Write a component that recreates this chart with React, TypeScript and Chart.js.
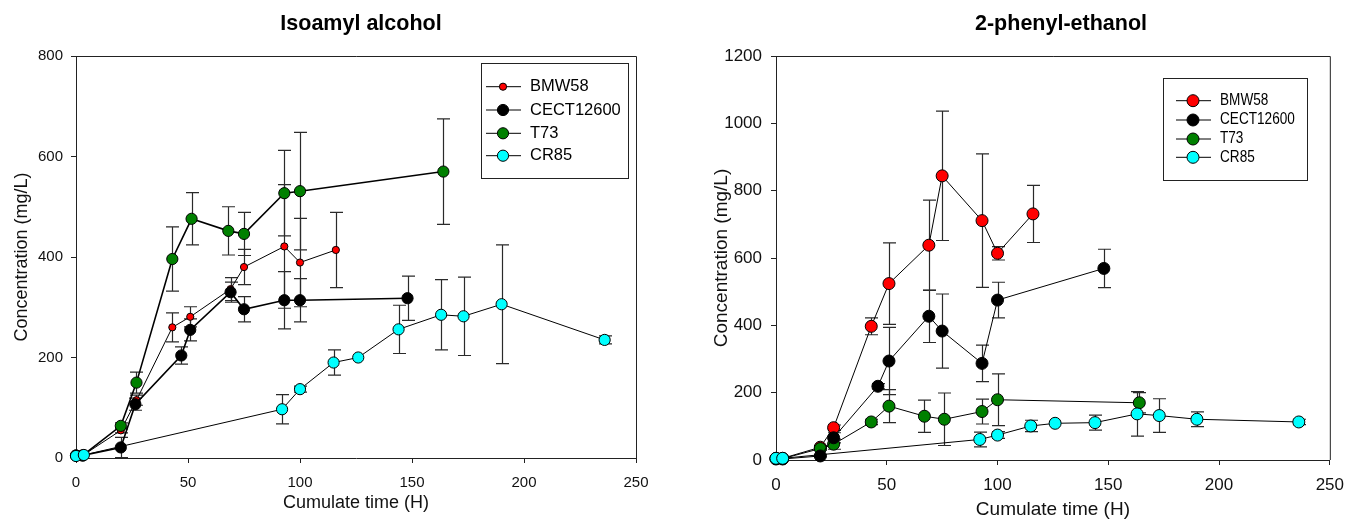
import React, { useEffect, useRef } from 'react';
import { Chart, registerables } from 'chart.js';

Chart.register(...registerables);

// ---------- Data ----------
const SERIES_NAMES = ['BMW58', 'CECT12600', 'T73', 'CR85'];
const SERIES_COLORS = ['#FF0000', '#000000', '#008000', '#00FFFF'];

const X_TICKS = [0, 50, 100, 150, 200, 250];
const ISO_Y_TICKS = [0, 200, 400, 600, 800];
const PHE_Y_TICKS = [0, 200, 400, 600, 800, 1000, 1200];

// Isoamyl alcohol
const isoBmwT = [0, 3, 20, 27, 43, 51, 69, 75, 93, 100, 116];
const isoBmwV = [5, 5, 55, 115, 260, 281, 336, 380, 421, 389, 414];
const isoBmwE = [0, 0, 5, 10, 29, 20, 23, 35, 123, 88, 75];

const isoCectT = [0, 3, 20, 26.5, 47, 51, 69, 75, 93, 100, 148];
const isoCectV = [5, 5, 21, 107, 204, 255, 330, 296, 314, 314, 318];
const isoCectE = [0, 0, 20, 12, 17, 22, 20, 25, 57, 43, 44];

const isoT73T = [0, 3, 20, 27, 43, 51.6, 68, 75, 93, 100, 164];
const isoT73V = [5, 5, 64, 150, 396, 476, 452, 446, 527, 531, 570];
const isoT73E = [0, 0, 6, 21, 64, 52, 48, 43, 85, 117, 105];

const isoCr85T = [0, 3.5, 92, 100, 115, 126, 144, 163, 173, 190, 236];
const isoCr85V = [4, 6, 97, 137, 190, 200, 256, 285, 282, 306, 235];
const isoCr85E = [0, 0, 29, 6, 25, 0, 48, 70, 78, 118, 8];

// 2-phenyl-ethanol
const pheBmwT = [0, 3, 20, 26, 43, 51, 69, 75, 93, 100, 116];
const pheBmwV = [5, 5, 38, 96, 397, 524, 638, 844, 711, 614, 731];
const pheBmwE = [0, 0, 5, 8, 25, 121, 134, 192, 198, 20, 85];

const pheCectT = [0, 3, 20, 26, 46, 51, 69, 75, 93, 100, 148];
const pheCectV = [3, 3, 12, 66, 219, 294, 427, 383, 287, 475, 569];
const pheCectE = [0, 0, 3, 15, 8, 100, 78, 110, 54, 53, 57];

const pheT73T = [0, 3, 20, 26, 43, 51, 67, 76, 93, 100, 164];
const pheT73V = [4, 4, 34, 47, 113, 160, 130, 121, 144, 179, 170];
const pheT73E = [0, 0, 5, 15, 8, 49, 48, 78, 37, 77, 30];

const pheCr85T = [0, 3, 92, 100, 115, 126, 144, 163, 173, 190, 236];
const pheCr85V = [5, 5, 61, 74, 101, 109, 111, 137, 132, 121, 113];
const pheCr85E = [0, 0, 22, 10, 17, 0, 22, 66, 50, 22, 8];

const FONT = '"Liberation Sans", Arial, Helvetica, sans-serif';

type Panel = {
  title: string;
  times: number[][];
  values: number[][];
  errors: number[][];
  yTicks: number[];
  area: { left: number; right: number; top: number; bottom: number };
  tickFont: number;
  axisTitleFont: number;
  yTitlePad: number;
  xTitlePad: number;
  yTickPad: number;
  xTickPad: number;
  headingX: number;
  radii: number[];
  lineWidths: number[];
  legend: {
    box: [number, number, number, number];
    rows: number[];
    lineX: [number, number];
    markerX: number;
    textX: number;
    font: number;
    squeeze: number;
  };
};

const W = 677;
const H = 522;

const PANELS: Panel[] = [
  {
    title: 'Isoamyl alcohol',
    times: [isoBmwT, isoCectT, isoT73T, isoCr85T],
    values: [isoBmwV, isoCectV, isoT73V, isoCr85V],
    errors: [isoBmwE, isoCectE, isoT73E, isoCr85E],
    yTicks: ISO_Y_TICKS,
    area: { left: 76, right: 636, top: 56, bottom: 458 },
    tickFont: 15,
    axisTitleFont: 18,
    yTitlePad: 11,
    xTitlePad: 8,
    yTickPad: 8,
    xTickPad: 11,
    headingX: 361,
    radii: [3.6, 5.6, 5.6, 5.6],
    lineWidths: [1, 1.6, 1.6, 1],
    legend: {
      box: [481, 63, 147, 115],
      rows: [86.7, 110, 133.3, 155.7],
      lineX: [486, 521],
      markerX: 503,
      textX: 530,
      font: 16.5,
      squeeze: 1,
    },
  },
  {
    title: '2-phenyl-ethanol',
    times: [pheBmwT, pheCectT, pheT73T, pheCr85T],
    values: [pheBmwV, pheCectV, pheT73V, pheCr85V],
    errors: [pheBmwE, pheCectE, pheT73E, pheCr85E],
    yTicks: PHE_Y_TICKS,
    area: { left: 99, right: 659, top: 56, bottom: 460 },
    tickFont: 17,
    axisTitleFont: 19,
    yTitlePad: 33,
    xTitlePad: 1,
    yTickPad: 9,
    xTickPad: 10,
    headingX: 384,
    radii: [6, 6, 6, 6],
    lineWidths: [1, 1, 1, 1],
    legend: {
      box: [486, 78, 144, 102],
      rows: [100.7, 120, 139, 157.3],
      lineX: [499, 534],
      markerX: 516,
      textX: 543,
      font: 16,
      squeeze: 0.85,
    },
  },
];

const errorBarPlugin = {
  id: 'errorBars',
  beforeDatasetsDraw(chart: any) {
    const ctx = chart.ctx;
    const ys = chart.scales.y;
    chart.data.datasets.forEach((ds: any, i: number) => {
      const meta = chart.getDatasetMeta(i);
      const errs: number[] = ds.errors || [];
      ctx.save();
      ctx.strokeStyle = '#2a2a2a';
      ctx.lineWidth = 1.2;
      meta.data.forEach((pt: any, j: number) => {
        const e = errs[j];
        if (!e) return;
        const v = ds.data[j].y;
        const px = Math.round(pt.x) + 0.5;
        const t = ys.getPixelForValue(v + e);
        const b = ys.getPixelForValue(v - e);
        const cap = 6.5;
        ctx.beginPath();
        ctx.moveTo(px, t);
        ctx.lineTo(px, b);
        ctx.moveTo(px - cap, t);
        ctx.lineTo(px + cap, t);
        ctx.moveTo(px - cap, b);
        ctx.lineTo(px + cap, b);
        ctx.stroke();
      });
      ctx.restore();
    });
  },
};

const framePlugin = {
  id: 'frame',
  beforeDatasetsDraw(chart: any) {
    const { ctx, chartArea } = chart;
    ctx.save();
    ctx.strokeStyle = '#222';
    ctx.lineWidth = 1;
    ctx.beginPath();
    ctx.moveTo(chartArea.left, chartArea.top + 0.5);
    ctx.lineTo(chartArea.right + 0.5, chartArea.top + 0.5);
    ctx.lineTo(chartArea.right + 0.5, chartArea.bottom);
    ctx.stroke();
    ctx.restore();
  },
};

const decorPlugin = {
  id: 'decor',
  afterDraw(chart: any, _args: any, opts: any) {
    const p: Panel = opts.panel;
    const ctx = chart.ctx;
    ctx.save();
    // heading
    ctx.fillStyle = '#000';
    ctx.font = `bold 21.5px ${FONT}`;
    ctx.textAlign = 'center';
    ctx.textBaseline = 'middle';
    ctx.fillText(p.title, p.headingX, 24);
    // legend
    const lg = p.legend;
    ctx.strokeStyle = '#222';
    ctx.lineWidth = 1;
    ctx.strokeRect(lg.box[0] + 0.5, lg.box[1] + 0.5, lg.box[2], lg.box[3]);
    chart.data.datasets.forEach((ds: any, i: number) => {
      const y = lg.rows[i];
      ctx.strokeStyle = '#000';
      ctx.lineWidth = 1;
      ctx.beginPath();
      ctx.moveTo(lg.lineX[0], y);
      ctx.lineTo(lg.lineX[1], y);
      ctx.stroke();
      ctx.beginPath();
      ctx.arc(lg.markerX, y, ds.pointRadius, 0, Math.PI * 2);
      ctx.fillStyle = ds.pointBackgroundColor;
      ctx.fill();
      ctx.stroke();
      ctx.fillStyle = '#000';
      ctx.font = `${lg.font}px ${FONT}`;
      ctx.textAlign = 'left';
      ctx.textBaseline = 'middle';
      ctx.save();
      ctx.translate(lg.textX, y);
      ctx.scale(lg.squeeze, 1);
      ctx.fillText(ds.label, 0, 0);
      ctx.restore();
    });
    ctx.restore();
  },
};

function buildConfig(p: Panel): any {
  const drawOrder = [3, 1, 2, 0];
  const datasets = SERIES_NAMES.map((name, i) => ({
    label: name,
    data: p.times[i].map((t, j) => ({ x: t, y: p.values[i][j] })),
    errors: p.errors[i],
    borderColor: '#000',
    borderWidth: p.lineWidths[i],
    pointRadius: p.radii[i],
    pointHoverRadius: p.radii[i],
    pointBackgroundColor: SERIES_COLORS[i],
    pointBorderColor: '#000',
    pointBorderWidth: 1,
    showLine: true,
    tension: 0,
    fill: false,
    clip: false,
    order: drawOrder[i],
  }));
  const yMax = p.yTicks[p.yTicks.length - 1];
  return {
    type: 'line',
    data: { datasets },
    options: {
      responsive: false,
      animation: false,
      devicePixelRatio: 1,
      events: [],
      layout: {
        padding: { left: 0, top: p.area.top, right: W - p.area.right, bottom: 0 },
      },
      plugins: {
        legend: { display: false },
        title: { display: false },
        tooltip: { enabled: false },
        decor: { panel: p },
      },
      scales: {
        x: {
          type: 'linear',
          min: 0,
          max: 250,
          afterFit: (s: any) => {
            s.height = H - p.area.bottom;
          },
          afterBuildTicks: (s: any) => {
            s.ticks = X_TICKS.map((v) => ({ value: v }));
          },
          ticks: {
            color: '#111',
            font: { family: FONT, size: p.tickFont },
            padding: p.xTickPad,
            maxRotation: 0,
            callback: (v: any) => String(v),
          },
          grid: { drawOnChartArea: false, drawTicks: true, tickLength: 5, color: '#222', tickColor: '#222' },
          border: { display: true, color: '#222', width: 1 },
          title: {
            display: true,
            text: 'Cumulate time (H)',
            color: '#111',
            font: { family: FONT, size: p.axisTitleFont },
            padding: { top: 0, bottom: p.xTitlePad },
          },
        },
        y: {
          type: 'linear',
          min: 0,
          max: yMax,
          afterFit: (s: any) => {
            s.width = p.area.left;
          },
          afterBuildTicks: (s: any) => {
            s.ticks = p.yTicks.map((v) => ({ value: v }));
          },
          ticks: {
            color: '#111',
            font: { family: FONT, size: p.tickFont },
            padding: p.yTickPad,
            callback: (v: any) => String(v),
          },
          grid: { drawOnChartArea: false, drawTicks: true, tickLength: 5, color: '#222', tickColor: '#222' },
          border: { display: true, color: '#222', width: 1 },
          title: {
            display: true,
            text: 'Concentration (mg/L)',
            color: '#111',
            font: { family: FONT, size: p.axisTitleFont },
            padding: { top: p.yTitlePad, bottom: 0 },
          },
        },
      },
    },
    plugins: [errorBarPlugin, framePlugin, decorPlugin],
  };
}

function PanelChart({ panel, left }: { panel: Panel; left: number }) {
  const ref = useRef<HTMLCanvasElement | null>(null);
  useEffect(() => {
    if (!ref.current) return;
    const chart = new Chart(ref.current, buildConfig(panel));
    return () => chart.destroy();
  }, [panel]);
  return (
    <canvas
      ref={ref}
      width={W}
      height={H}
      style={{ position: 'absolute', left, top: 0, width: W, height: H }}
    />
  );
}

export default function App() {
  return (
    <div
      style={{
        position: 'fixed',
        left: 0,
        top: 0,
        width: 1354,
        height: H,
        background: '#fff',
        overflow: 'hidden',
      }}
    >
      <PanelChart panel={PANELS[0]} left={0} />
      <PanelChart panel={PANELS[1]} left={W} />
    </div>
  );
}
